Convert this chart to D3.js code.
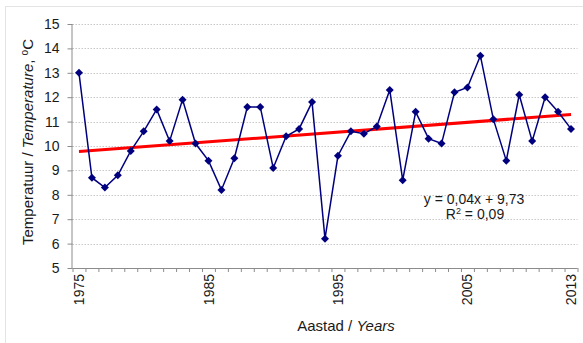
<!DOCTYPE html>
<html>
<head>
<meta charset="utf-8">
<script src="https://cdn.jsdelivr.net/npm/d3@7"></script>
<style>
  html, body { margin: 0; padding: 0; background: #fff; }
  svg { display: block; font-family: "Liberation Sans", Arial, sans-serif; }
</style>
</head>
<body>
<div id="chart"></div>
<script>
// Annual mean temperature, 1975-2013
const years = d3.range(1975, 2014);
const temps = [
  13.0, 8.7, 8.3, 8.8, 9.8, 10.6, 11.5, 10.2, 11.9, 10.1,
  9.4, 8.2, 9.5, 11.6, 11.6, 9.1, 10.4, 10.7, 11.8, 6.2,
  9.6, 10.6, 10.5, 10.8, 12.3, 8.6, 11.4, 10.3, 10.1, 12.2,
  12.4, 13.7, 11.1, 9.4, 12.1, 10.2, 12.0, 11.4, 10.7
];
const yearLabels = [1975, 1985, 1995, 2005, 2013];
const yTicks = d3.range(5, 16);
// trend line as printed on the chart: y = 0,04x + 9,73 (x = 1..39)
const trendCoef = [0.04, 9.73];
const eqLines = ['y = 0,04x + 9,73', 'R2 = 0,09'];

const width = 583, height = 343;
const plot = { left: 72.5, right: 577.5, top: 24, bottom: 268 };

const svg = d3.select('#chart').append('svg')
  .attr('width', width)
  .attr('height', height);

// chart area border (runs off the right/bottom edge)
svg.append('rect')
  .attr('x', 5.5).attr('y', 6.5)
  .attr('width', 620).attr('height', 400)
  .attr('fill', 'none')
  .attr('stroke', '#e4e4e4');

// scales
const xi = d3.scaleLinear().domain([0, years.length]).range([plot.left, plot.right]);
const xYear = (yr) => xi(yr - years[0] + 0.5);
const y = d3.scaleLinear().domain([5, 15]).range([plot.bottom, plot.top]);

// gridlines
svg.append('g')
  .selectAll('line')
  .data(yTicks.filter((d) => d > 5))
  .join('line')
  .attr('x1', plot.left).attr('x2', plot.right)
  .attr('y1', (d) => Math.round(y(d)) + 0.5)
  .attr('y2', (d) => Math.round(y(d)) + 0.5)
  .attr('stroke', '#c8c8c8')
  .attr('stroke-dasharray', '1.5,1.5');

// y axis
const yAxis = svg.append('g')
  .attr('transform', `translate(${plot.left},0)`)
  .call(d3.axisLeft(y).tickValues(yTicks).tickSize(5).tickPadding(8).tickFormat(d3.format('d')));

// x axis: ticks between categories
const xAxis = svg.append('g')
  .attr('transform', `translate(0,${plot.bottom})`)
  .call(d3.axisBottom(xi).tickValues(d3.range(years.length + 1)).tickSize(4).tickFormat(''));

svg.selectAll('.domain, .tick line').attr('stroke', '#8c8c8c');
xAxis.select('.domain').attr('d', `M${plot.left},0.5H${plot.right}`);
yAxis.select('.domain').attr('d', `M-0.5,${plot.top}V${plot.bottom}`);
yAxis.selectAll('text').style('font-size', '14px').style('fill', '#1a1a1a');

// year labels, rotated
svg.append('g')
  .selectAll('text')
  .data(yearLabels)
  .join('text')
  .attr('transform', (d) => `translate(${xYear(d)},${plot.bottom + 6}) rotate(-90)`)
  .attr('dy', '0.36em')
  .attr('text-anchor', 'end')
  .style('font-size', '14px')
  .style('fill', '#1a1a1a')
  .text((d) => d);

// trend line
const trend = (i) => trendCoef[0] * i + trendCoef[1];
svg.append('line')
  .attr('x1', xYear(years[0]))
  .attr('y1', y(trend(1)))
  .attr('x2', xYear(years[years.length - 1]))
  .attr('y2', y(trend(years.length)))
  .attr('stroke', '#ff0000')
  .attr('stroke-width', 3);

// series
const series = years.map((yr, i) => ({ year: yr, value: temps[i] }));
svg.append('path')
  .datum(series)
  .attr('fill', 'none')
  .attr('stroke', '#00007f')
  .attr('stroke-width', 1.5)
  .attr('d', d3.line().x((d) => xYear(d.year)).y((d) => y(d.value)));

svg.append('g')
  .selectAll('path')
  .data(series)
  .join('path')
  .attr('transform', (d) => `translate(${xYear(d.year)},${y(d.value)})`)
  .attr('d', 'M0,-4L4,0L0,4L-4,0Z')
  .attr('fill', '#00007f');

// regression label
const eq = svg.append('text')
  .attr('x', 474)
  .attr('text-anchor', 'middle')
  .style('font-size', '14px')
  .style('fill', '#1a1a1a');
eq.append('tspan').attr('x', 474).attr('y', 204).text(eqLines[0]);
const r2 = eq.append('tspan').attr('x', 475).attr('y', 219);
r2.append('tspan').text('R');
r2.append('tspan').attr('dy', -5).style('font-size', '9px').text('2');
r2.append('tspan').attr('dy', 5).text(' = 0,09');

// axis titles
const yt = svg.append('text')
  .attr('transform', 'translate(33,142) rotate(-90)')
  .attr('text-anchor', 'middle')
  .style('font-size', '15px')
  .style('fill', '#1a1a1a');
yt.append('tspan').text('Temperatuur / ');
yt.append('tspan').style('font-style', 'italic').text('Temperature');
yt.append('tspan').text(', ');
yt.append('tspan').attr('dy', -5).style('font-size', '10px').text('o');
yt.append('tspan').attr('dy', 5).text('C');

const xt = svg.append('text')
  .attr('x', 346)
  .attr('y', 331)
  .attr('text-anchor', 'middle')
  .style('font-size', '15px')
  .style('fill', '#1a1a1a');
xt.append('tspan').text('Aastad / ');
xt.append('tspan').style('font-style', 'italic').text('Years');
</script>
</body>
</html>
